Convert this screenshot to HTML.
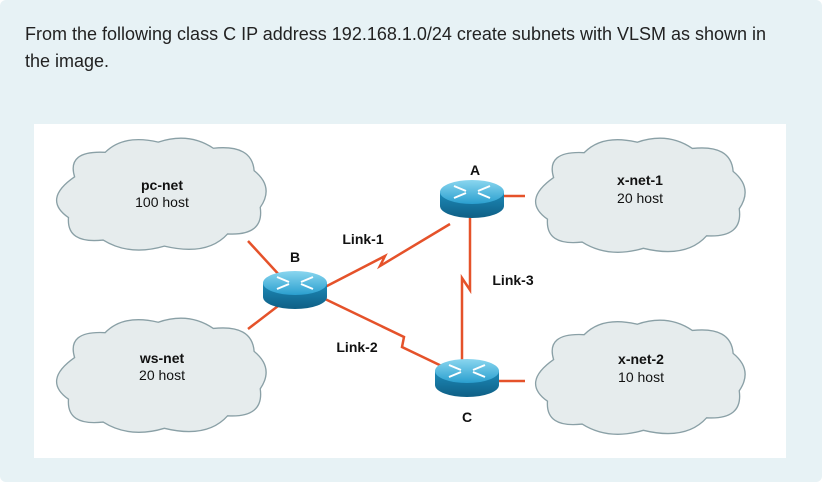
<!DOCTYPE html>
<html><head><meta charset="utf-8"><style>
html,body{margin:0;padding:0;}
body{width:825px;height:482px;background:#fff;overflow:hidden;position:relative;font-family:"Liberation Sans",sans-serif;}
.bg{position:absolute;left:0;top:0;width:822px;height:482px;background:#e7f2f5;border-radius:6px;}
.q{position:absolute;left:25px;top:21px;font-size:18px;line-height:27px;color:#222;width:795px;white-space:nowrap;}
.img{position:absolute;left:34px;top:124px;width:752px;height:334px;background:#fff;}
svg{position:absolute;left:0;top:0;}
</style></head><body>
<div class="bg"></div>
<div class="q">From the following class C IP address 192.168.1.0/24 create subnets with VLSM as shown in<br>the image.</div>
<div class="img"></div>
<svg width="825" height="482" viewBox="0 0 825 482" font-family="Liberation Sans, sans-serif">
<defs>
<path id="cl" d="M30,40 Q22,14 60,16 Q78,-2 112,6 Q142,-4 166,12 Q204,8 206,34 Q226,50 212,70 Q216,98 180,96 Q160,118 118,108 Q84,118 58,102 Q22,106 24,80 Q-2,62 30,40 Z" fill="#e6eced" stroke="#8aa0a6" stroke-width="1.3"/>
<linearGradient id="rt" x1="0" y1="0" x2="0" y2="1"><stop offset="0" stop-color="#8ad6ef"/><stop offset="1" stop-color="#2a9fcf"/></linearGradient>
<linearGradient id="rb" x1="0" y1="0" x2="0" y2="1"><stop offset="0" stop-color="#1d8ab8"/><stop offset="1" stop-color="#0f5f85"/></linearGradient>
<g id="rtr">
<path d="M-32,0 L-32,14 A32,12 0 0 0 32,14 L32,0 Z" fill="url(#rb)"/>
<ellipse cx="0" cy="0" rx="32" ry="12" fill="url(#rt)"/>
<g stroke="#fff" stroke-width="2" fill="none"><path d="M-18,-6 L-6,-1 M18,-6 L6,-1 M-18,6 L-6,1 M18,6 L6,1"/></g>
</g>
</defs>
<g stroke="#e5522a" stroke-width="2.5" fill="none">
<line x1="248" y1="241" x2="282" y2="278"/>
<line x1="248" y1="329" x2="278" y2="306"/>
<line x1="503" y1="196" x2="525" y2="196"/>
<line x1="498" y1="381" x2="525" y2="381"/>
<polyline points="325,287 385,256 380,266 450,224"/>
<polyline points="325,299 404,337 402,347 450,370"/>
<polyline points="470,212 470,290 462,278 462,362"/>
</g>
<use href="#cl" transform="translate(44,136) scale(1.02,1.02)"/>
<use href="#cl" transform="translate(44,316) scale(1.02,1.04)"/>
<use href="#cl" transform="translate(523,136) scale(1.02,1.04)"/>
<use href="#cl" transform="translate(523,318) scale(1.02,1.04)"/>
<use href="#rtr" transform="translate(472,192)"/>
<use href="#rtr" transform="translate(295,283)"/>
<use href="#rtr" transform="translate(467,371)"/>
<g font-size="14" fill="#111" text-anchor="middle">
<text x="162" y="190" font-weight="bold">pc-net</text><text x="162" y="207">100 host</text>
<text x="162" y="363" font-weight="bold">ws-net</text><text x="162" y="380">20 host</text>
<text x="640" y="185" font-weight="bold">x-net-1</text><text x="640" y="203">20 host</text>
<text x="641" y="364" font-weight="bold">x-net-2</text><text x="641" y="382">10 host</text>
<g font-weight="bold"><text x="475" y="175">A</text><text x="295" y="262">B</text><text x="467" y="422">C</text>
<text x="363" y="244">Link-1</text><text x="357" y="352">Link-2</text><text x="513" y="285">Link-3</text></g>
</g>
</svg>
</body></html>
